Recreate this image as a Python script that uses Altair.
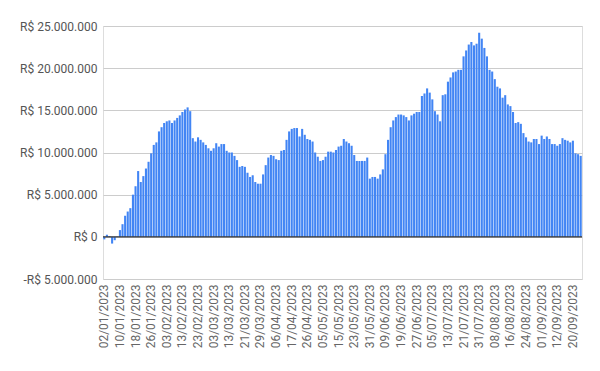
import altair as alt
import pandas as pd

# Business days (Brazil) shown in the chart
start_date = "2023-01-02"
end_date = "2023-09-25"
holidays = ["2023-02-20", "2023-02-21", "2023-04-07", "2023-04-21",
            "2023-05-01", "2023-06-08", "2023-09-07"]

# Values in millions of R$, one per business day
values_mi = [
    -0.3, 0.25, 0.1, -0.8, -0.4, 0.05, 0.8, 1.5, 2.5, 3.0,
    3.4, 5.0, 6.0, 7.8, 6.5, 7.2, 8.1, 8.9, 9.9, 10.9,
    11.2, 12.5, 13.0, 13.5, 13.7, 13.8, 13.5, 13.8, 14.1, 14.4,
    14.8, 15.1, 15.35, 14.9, 11.7, 11.3, 11.8, 11.5, 11.2, 10.9,
    10.5, 10.2, 10.5, 11.1, 10.7, 11.0, 11.0, 10.2, 10.0, 10.0,
    9.6, 9.1, 8.3, 8.4, 8.3, 7.6, 7.1, 7.3, 6.5, 6.3,
    6.3, 7.4, 8.5, 9.4, 9.7, 9.6, 9.2, 9.1, 10.2, 10.3,
    11.5, 12.5, 12.8, 12.9, 12.9, 11.9, 12.8, 12.1, 11.6, 11.5,
    11.3, 10.0, 9.5, 9.0, 9.1, 9.5, 10.1, 10.1, 10.0, 10.3,
    10.7, 10.8, 11.6, 11.3, 11.1, 10.8, 9.7, 9.0, 9.0, 9.0,
    9.0, 9.4, 6.9, 7.1, 7.1, 6.9, 7.4, 8.0, 9.8, 11.5,
    13.0, 13.8, 14.2, 14.5, 14.5, 14.4, 14.2, 13.8, 14.4, 14.6,
    14.8, 14.8, 16.7, 17.0, 17.6, 17.1, 16.3, 14.9, 14.5, 13.7,
    16.8, 16.9, 18.4, 18.9, 19.5, 19.6, 19.8, 19.8, 21.4, 22.1,
    22.8, 23.1, 22.7, 22.9, 24.2, 23.5, 22.4, 21.4, 19.8, 19.6,
    18.7, 17.8, 17.6, 16.5, 16.8, 15.7, 15.5, 14.8, 13.5, 13.6,
    13.4, 12.3, 11.8, 11.3, 11.2, 11.6, 11.6, 11.0, 12.0, 11.6,
    11.9, 11.6, 11.0, 11.0, 10.8, 11.0, 11.7, 11.5, 11.4, 11.2,
    11.4, 9.9, 9.8, 9.6,
]

y_ticks = [-5000000, 0, 5000000, 10000000, 15000000, 20000000, 25000000]

dates = [d.strftime("%d/%m/%Y") for d in pd.bdate_range(start_date, end_date)
         if d.strftime("%Y-%m-%d") not in holidays]
tick_labels = dates[::6]

df = pd.DataFrame({"date": dates, "value": [v * 1e6 for v in values_mi]})

label_expr = ("(datum.value < 0 ? '-' : '') + 'R$ ' + "
              "replace(format(abs(datum.value), ','), regexp(',', 'g'), '.')")

bars = alt.Chart(df).mark_bar(color="#4285F4").encode(
    x=alt.X("date:N", sort=None,
            scale=alt.Scale(paddingInner=0.2, paddingOuter=0.1),
            axis=alt.Axis(values=tick_labels, labelAngle=-90, title=None,
                          ticks=False, domain=False, grid=False,
                          labelColor="#666", labelFont="Roboto",
                          labelFontSize=12, labelPadding=5,
                          labelOverlap=False)),
    y=alt.Y("value:Q",
            scale=alt.Scale(domain=[-5000000, 25000000], nice=False),
            axis=alt.Axis(values=y_ticks, title=None, labelExpr=label_expr,
                          grid=True, gridColor="#cccccc", domain=False,
                          ticks=False, labelColor="#555", labelFont="Roboto",
                          labelFontSize=12, labelPadding=6)),
)

zero = alt.Chart(pd.DataFrame({"y": [0]})).mark_rule(
    color="#333333", strokeWidth=1.2
).encode(y="y:Q")

chart = alt.layer(bars, zero).properties(
    width=479, height=253,
    autosize=alt.AutoSizeParams(type="none"),
    padding={"left": 95, "top": 18, "right": 10, "bottom": 80},
).configure_view(stroke=None).configure(font="Roboto")

chart.save("out.html", embed_options={"renderer": "svg", "actions": False})
